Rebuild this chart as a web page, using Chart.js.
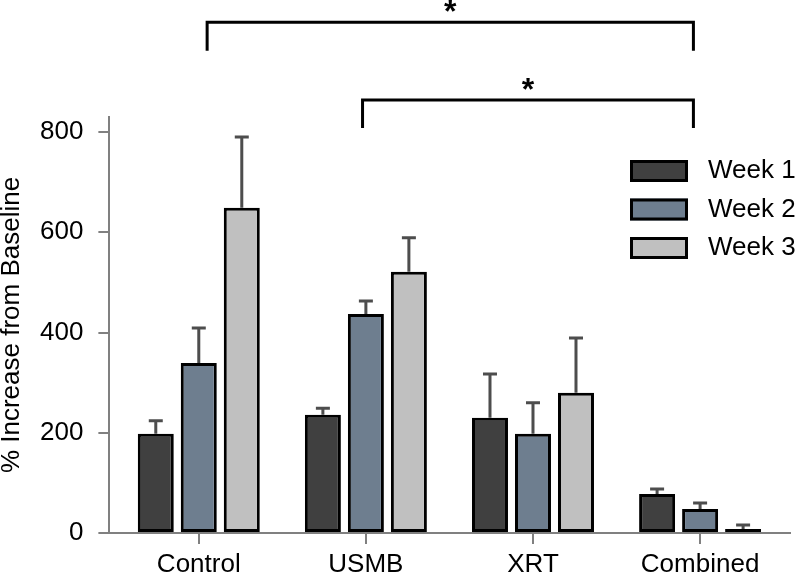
<!DOCTYPE html>
<html>
<head>
<meta charset="utf-8">
<script src="https://cdn.jsdelivr.net/npm/chart.js@4.4.0/dist/chart.umd.min.js"></script>
<style>
  html, body { margin: 0; padding: 0; background: #fff; }
  #wrap { width: 800px; height: 578px; }
</style>
</head>
<body>
<div id="wrap"><canvas id="chart"></canvas></div>
<script>
const categories = ["Control", "USMB", "XRT", "Combined"];
const seriesLabels = ["Week 1", "Week 2", "Week 3"];
const week1 = [198, 236, 230, 78];
const week2 = [339, 437, 198, 48];
const week3 = [649, 521, 280, 8];
// upper error bar (SEM) for each bar
const week1Err = [26, 13, 87, 10];
const week2Err = [70, 26, 62, 12];
const week3Err = [141, 68, 109, 8];
const yTicks = [0, 200, 400, 600, 800];
// significance brackets, x in category index, y in axis units
const brackets = [
  { from: 0.05, to: 2.96, y: 1019, drop: 57, label: "*" },
  { from: 0.98, to: 2.96, y: 864, drop: 56, label: "*" },
];

const FONT = "'Liberation Sans', Arial, sans-serif";
Chart.defaults.font.family = FONT;

const colors = ["#404040", "#6e7e8f", "#c0c0c0"];
const values = [week1, week2, week3];
const errors = [week1Err, week2Err, week3Err];

const datasets = seriesLabels.map((label, s) => ({
  label: label,
  data: values[s].map((v, i) => ({ x: i, y: v })),
  err: errors[s],
  backgroundColor: colors[s],
  borderColor: "#000",
  borderWidth: 3,
  borderSkipped: false,
  categoryPercentage: 0.772,
  barPercentage: 0.837,
}));

// draws the upper error bars on top of each bar
const errorBars = {
  id: "errorBars",
  afterDatasetsDraw(chart) {
    const ctx = chart.ctx;
    const yScale = chart.scales.y;
    ctx.save();
    ctx.strokeStyle = "#4d4d4d";
    ctx.lineWidth = 3;
    chart.data.datasets.forEach((ds, s) => {
      const meta = chart.getDatasetMeta(s);
      meta.data.forEach((bar, i) => {
        const top = yScale.getPixelForValue(ds.data[i].y + ds.err[i]);
        ctx.beginPath();
        ctx.moveTo(bar.x, bar.y);
        ctx.lineTo(bar.x, top);
        ctx.moveTo(bar.x - 7, top);
        ctx.lineTo(bar.x + 7, top);
        ctx.stroke();
      });
    });
    ctx.restore();
  }
};

// significance brackets with stars
const sigBrackets = {
  id: "sigBrackets",
  afterDraw(chart) {
    const ctx = chart.ctx;
    const xs = chart.scales.x, ys = chart.scales.y;
    ctx.save();
    ctx.strokeStyle = "#000";
    ctx.lineWidth = 3;
    brackets.forEach(b => {
      const x1 = xs.getPixelForValue(b.from);
      const x2 = xs.getPixelForValue(b.to);
      const y = ys.getPixelForValue(b.y);
      const yb = ys.getPixelForValue(b.y - b.drop);
      ctx.beginPath();
      ctx.moveTo(x1, yb);
      ctx.lineTo(x1, y);
      ctx.lineTo(x2, y);
      ctx.lineTo(x2, yb);
      ctx.stroke();
      ctx.fillStyle = "#000";
      ctx.font = "bold 32px " + FONT;
      ctx.textAlign = "center";
      ctx.textBaseline = "alphabetic";
      ctx.fillText(b.label, (x1 + x2) / 2, y);
    });
    ctx.restore();
  }
};

// legend in the upper right of the plot
const boxLegend = {
  id: "boxLegend",
  afterDraw(chart) {
    const ctx = chart.ctx;
    const area = chart.chartArea;
    const x0 = area.right - 160, y0 = area.top + 43;
    ctx.save();
    chart.data.datasets.forEach((ds, i) => {
      const y = y0 + i * 38.5;
      ctx.fillStyle = ds.backgroundColor;
      ctx.fillRect(x0, y, 58, 22);
      ctx.strokeStyle = "#000";
      ctx.lineWidth = 3;
      ctx.strokeRect(x0 + 1.5, y + 1.5, 55, 19);
      ctx.fillStyle = "#000";
      ctx.font = "26px " + FONT;
      ctx.textAlign = "left";
      ctx.textBaseline = "middle";
      ctx.fillText(ds.label, x0 + 78, y + 11);
    });
    ctx.restore();
  }
};

new Chart(document.getElementById("chart"), {
  type: "bar",
  data: { datasets: datasets },
  options: {
    responsive: true,
    maintainAspectRatio: false,
    animation: false,
    layout: { padding: { top: 117, right: 10, bottom: -8, left: -1 } },
    plugins: {
      legend: { display: false },
      tooltip: { enabled: false },
    },
    scales: {
      x: {
        type: "linear",
        min: -0.535,
        max: 3.538,
        offset: false,
        afterBuildTicks: axis => { axis.ticks = categories.map((c, i) => ({ value: i })); },
        ticks: {
          callback: v => categories[v],
          color: "#000",
          font: { size: 26, lineHeight: 1 },
          padding: 8,
          maxRotation: 0,
          autoSkip: false,
        },
        grid: { drawOnChartArea: false, offset: false, tickLength: 11, color: "#808080", lineWidth: 2 },
        border: { color: "#808080", width: 2 },
      },
      y: {
        min: 0,
        max: 830,
        afterBuildTicks: axis => { axis.ticks = yTicks.map(v => ({ value: v })); },
        ticks: { color: "#000", font: { size: 26, lineHeight: 1 }, padding: 15 },
        grid: { drawOnChartArea: false, tickLength: 11, color: "#808080", lineWidth: 2 },
        border: { color: "#808080", width: 2 },
        title: {
          display: true,
          text: "% Increase from Baseline",
          color: "#000",
          font: { size: 26, lineHeight: 1 },
          padding: { top: 0, bottom: 0 },
        },
      },
    },
  },
  plugins: [errorBars, sigBrackets, boxLegend],
});
</script>
</body>
</html>
